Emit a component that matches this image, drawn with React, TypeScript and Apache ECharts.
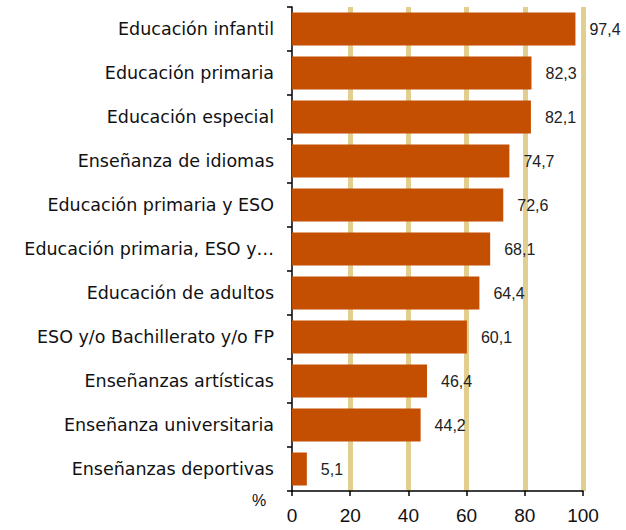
import React, { useEffect, useRef } from "react";
import * as echarts from "echarts";

const categories = [
  "Educación infantil",
  "Educación primaria",
  "Educación especial",
  "Enseñanza de idiomas",
  "Educación primaria y ESO",
  "Educación primaria, ESO y…",
  "Educación de adultos",
  "ESO y/o Bachillerato y/o FP",
  "Enseñanzas artísticas",
  "Enseñanza universitaria",
  "Enseñanzas deportivas",
];
const values = [97.4, 82.3, 82.1, 74.7, 72.6, 68.1, 64.4, 60.1, 46.4, 44.2, 5.1];
const xTicks = [0, 20, 40, 60, 80, 100];

export default function App() {
  const ref = useRef<HTMLDivElement>(null);
  useEffect(() => {
    document.body.style.margin = "0";
    if (!ref.current) return;
    const chart = echarts.init(ref.current, null, { renderer: "svg" });
    const grid = "#e2cf8f";
    chart.setOption({
      animation: false,
      backgroundColor: "#ffffff",
      grid: { left: 292, top: 7, width: 291, height: 484, containLabel: false },
      xAxis: {
        type: "value",
        min: xTicks[0],
        max: xTicks[xTicks.length - 1],
        interval: 20,
        axisLine: { show: true, lineStyle: { color: "#000", width: 1.5 } },
        axisTick: { show: true, length: 5, lineStyle: { color: "#000", width: 1.5 } },
        axisLabel: {
          margin: 15,
          color: "#111",
          fontFamily: "Liberation Sans, Arial, sans-serif",
          fontSize: 19,
        },
        splitLine: {
          show: true,
          lineStyle: {
            color: xTicks.map((t) => (t === 0 ? "rgba(0,0,0,0)" : grid)),
            width: 5,
          },
        },
      },
      yAxis: {
        type: "category",
        data: categories,
        inverse: true,
        axisLine: { show: true, lineStyle: { color: "#000", width: 1.5 } },
        axisTick: { show: true, length: 5, lineStyle: { color: "#000", width: 1.5 } },
        axisLabel: {
          margin: 18,
          color: "#111",
          fontFamily: "DejaVu Sans, sans-serif",
          fontSize: 17.5,
        },
        splitLine: { show: false },
      },
      graphic: [
        {
          type: "text",
          left: 252,
          top: 492,
          style: {
            text: "%",
            fill: "#111",
            font: "16px 'Liberation Sans', Arial, sans-serif",
          },
        },
      ],
      series: [
        {
          type: "bar",
          data: values,
          barCategoryGap: "25%",
          itemStyle: { color: "#c44f00" },
          label: {
            show: true,
            position: "right",
            distance: 14,
            color: "#222",
            fontFamily: "Liberation Sans, Arial, sans-serif",
            fontSize: 16,
            formatter: (p: any) => String(p.value).replace(".", ","),
          },
        },
      ],
    });
    return () => chart.dispose();
  }, []);
  return <div ref={ref} style={{ width: 626, height: 530 }} />;
}
